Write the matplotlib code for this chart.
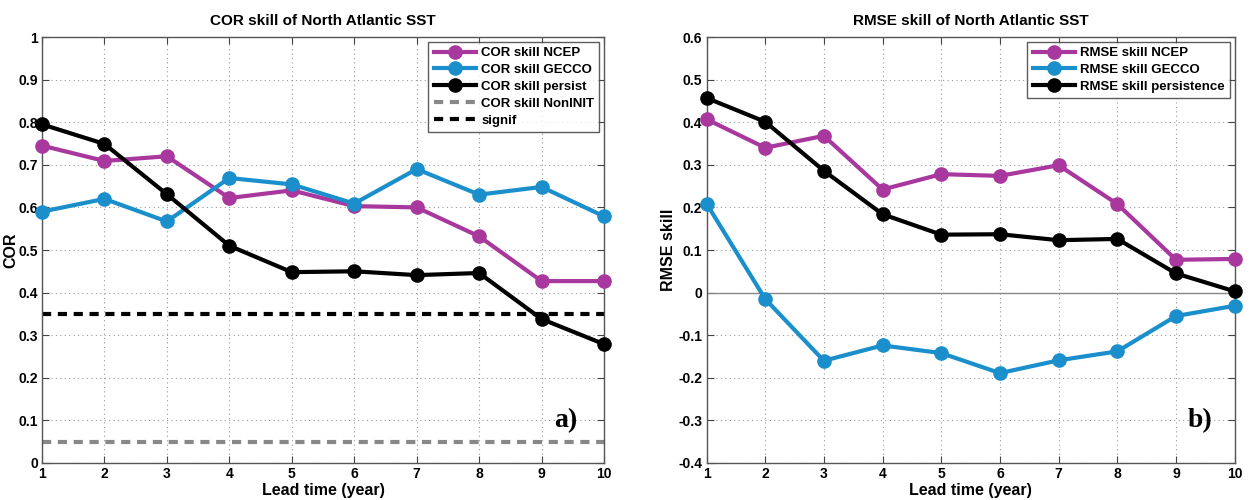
import matplotlib
matplotlib.use("Agg")
import matplotlib.pyplot as plt

plt.rcParams['font.family'] = ['Liberation Sans', 'DejaVu Sans']
plt.rcParams['font.weight'] = 'bold'

MAGENTA = '#a8379e'
BLUE = '#1a8fcb'

lead = [1, 2, 3, 4, 5, 6, 7, 8, 9, 10]

# COR skill (panel a)
cor_ncep = [0.745, 0.709, 0.720, 0.622, 0.640, 0.603, 0.600, 0.532, 0.427, 0.427]
cor_gecco = [0.590, 0.620, 0.567, 0.669, 0.654, 0.609, 0.690, 0.630, 0.648, 0.579]
cor_persist = [0.795, 0.749, 0.631, 0.510, 0.448, 0.450, 0.441, 0.446, 0.338, 0.279]
cor_noninit = 0.05
cor_signif = 0.35

# RMSE skill (panel b)
rmse_ncep = [0.407, 0.340, 0.368, 0.242, 0.278, 0.274, 0.299, 0.208, 0.077, 0.079]
rmse_gecco = [0.209, -0.015, -0.160, -0.124, -0.142, -0.189, -0.159, -0.138, -0.055, -0.031]
rmse_persist = [0.457, 0.401, 0.286, 0.184, 0.136, 0.137, 0.123, 0.126, 0.045, 0.003]


def style_axes(ax, ylim, yticks):
    ax.set_xlim(1, 10)
    ax.set_ylim(*ylim)
    ax.set_xticks(lead)
    ax.set_yticks(yticks)
    ax.set_yticklabels(['%g' % t for t in yticks])
    ax.grid(True, linestyle=(0, (1, 3)), color='#999999', linewidth=0.8)
    ax.tick_params(direction='in', top=True, right=True, labelsize=10, length=5,
                   color='#444444', pad=3)
    for s in ax.spines.values():
        s.set_color('#555555')
        s.set_linewidth(1.0)
    ax.set_xlabel('Lead time (year)', fontsize=11.5, fontweight='bold', labelpad=1)


def style_legend(leg):
    leg.get_frame().set_edgecolor('#333333')
    leg.get_frame().set_linewidth(1.0)


fig = plt.figure(figsize=(12.56, 5.0), dpi=100)
ax1 = fig.add_axes([0.0334, 0.074, 0.4475, 0.852])
ax2 = fig.add_axes([0.5625, 0.074, 0.4205, 0.852])

lw = 3
ms = 9.5
ax1.plot(lead, cor_ncep, '-o', color=MAGENTA, lw=lw, ms=ms, clip_on=False, zorder=3, label='COR skill NCEP')
ax1.plot(lead, cor_gecco, '-o', color=BLUE, lw=lw, ms=ms, clip_on=False, zorder=3, label='COR skill GECCO')
ax1.plot(lead, cor_persist, '-o', color='black', lw=lw, ms=ms, clip_on=False, zorder=3, label='COR skill persist')
ax1.axhline(cor_noninit, color='#888888', lw=3, ls=(0, (2.2, 1.6)), label='COR skill NonINIT')
ax1.axhline(cor_signif, color='black', lw=3, ls=(0, (2.2, 1.6)), label='signif')
style_axes(ax1, (0, 1), [0, 0.1, 0.2, 0.3, 0.4, 0.5, 0.6, 0.7, 0.8, 0.9, 1])
ax1.set_ylabel('COR', fontsize=11.5, fontweight='bold', labelpad=0)
ax1.set_title('COR skill of North Atlantic SST', fontsize=11, fontweight='bold', pad=9)
leg1 = ax1.legend(loc='upper right', fontsize=9.5, handlelength=3.2, frameon=True, fancybox=False,
                  borderpad=0.4, labelspacing=0.35, handletextpad=0.4, borderaxespad=0.35)
style_legend(leg1)
ax1.text(9.2, 0.1, 'a)', fontsize=20, fontweight='bold', family='Liberation Serif', va='center')

ax2.axhline(0, color='#888888', lw=1.0)
ax2.plot(lead, rmse_ncep, '-o', color=MAGENTA, lw=lw, ms=ms, clip_on=False, zorder=3, label='RMSE skill NCEP')
ax2.plot(lead, rmse_gecco, '-o', color=BLUE, lw=lw, ms=ms, clip_on=False, zorder=3, label='RMSE skill GECCO')
ax2.plot(lead, rmse_persist, '-o', color='black', lw=lw, ms=ms, clip_on=False, zorder=3, label='RMSE skill persistence')
style_axes(ax2, (-0.4, 0.6), [-0.4, -0.3, -0.2, -0.1, 0, 0.1, 0.2, 0.3, 0.4, 0.5, 0.6])
ax2.set_ylabel('RMSE skill', fontsize=11.5, fontweight='bold', labelpad=2)
ax2.set_title('RMSE skill of North Atlantic SST', fontsize=11, fontweight='bold', pad=9)
leg2 = ax2.legend(loc='upper right', fontsize=9.5, handlelength=3.2, frameon=True, fancybox=False,
                  borderpad=0.4, labelspacing=0.35, handletextpad=0.4, borderaxespad=0.35)
style_legend(leg2)
ax2.text(9.2, -0.3, 'b)', fontsize=20, fontweight='bold', family='Liberation Serif', va='center')

fig.savefig('out.png', dpi=100)
